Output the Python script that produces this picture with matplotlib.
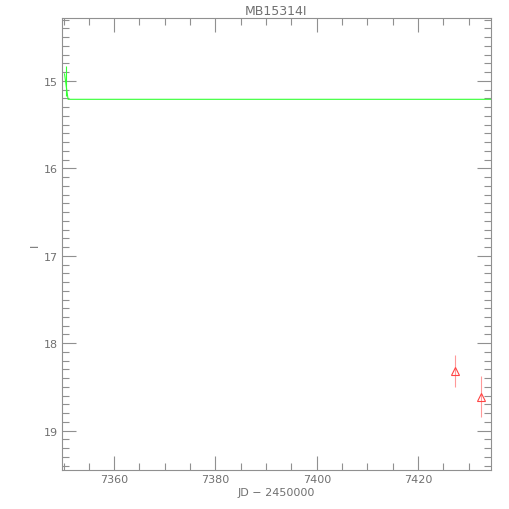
import matplotlib
matplotlib.use("Agg")
import matplotlib.pyplot as plt
from matplotlib.ticker import MultipleLocator

# data
green_x = [7350.5]
green_y = [15.0]
green_err = [0.17]
model_x = [7350.2, 7350.9, 7434.4]
model_y = [14.92, 15.21, 15.21]
red_x = [7427.3, 7432.4]
red_y = [18.32, 18.61]
red_err = [0.18, 0.23]

gray = "#909090"
txt = "#707070"
fig = plt.figure(figsize=(5.1, 5.1), dpi=100)
ax = fig.add_axes([62/510, 39/510, 429/510, 452/510])

ax.plot(model_x, model_y, color="#33ff33", lw=0.8)
ax.errorbar(green_x, green_y, yerr=green_err, fmt="none", ecolor="#33ff33", elinewidth=0.8)
ax.errorbar(red_x, red_y, yerr=red_err, fmt="^", ms=6, mfc="none", mec="#ff4444",
            ecolor="#ff9999", elinewidth=0.8, mew=0.8)

ax.set_xlim(7349.7, 7434.4)
ax.set_ylim(19.45, 14.28)
ax.xaxis.set_major_locator(MultipleLocator(20))
ax.xaxis.set_minor_locator(MultipleLocator(5))
ax.yaxis.set_major_locator(MultipleLocator(1))
ax.yaxis.set_minor_locator(MultipleLocator(0.1))
ax.tick_params(which="both", direction="in", top=True, right=True, color=gray,
               labelcolor=txt, labelsize=8)
ax.tick_params(which="major", length=10, width=0.8)
ax.tick_params(which="minor", length=5, width=0.8)
ax.tick_params(axis="x", pad=3)
ax.tick_params(axis="y", pad=3)
for s in ax.spines.values():
    s.set_color(gray)
    s.set_linewidth(0.8)

ax.set_title("MB15314I", color=txt, fontsize=9, pad=3)
ax.set_xlabel("JD \u2212 2450000", color=txt, fontsize=8, labelpad=2)
ax.set_ylabel("I", color=txt, fontsize=8, labelpad=3, rotation=90)

fig.savefig("out.png", dpi=100)
